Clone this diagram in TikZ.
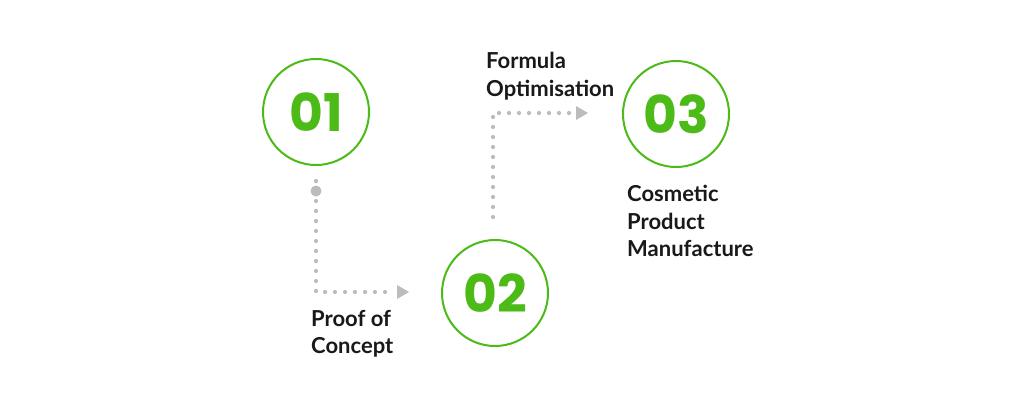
\documentclass[tikz,border=0pt]{standalone}
\usepackage{fontspec}
\setmainfont{Lato}
\newfontfamily\numfont{Poppins}
\usetikzlibrary{arrows.meta}
\definecolor{grn}{RGB}{76,187,23}
\definecolor{dotgray}{RGB}{188,188,188}
\begin{document}
\begin{tikzpicture}[x=1pt,y=-1pt,
  stepcircle/.style={circle,draw=grn,line width=2pt,minimum size=106pt,inner sep=0pt,
    font=\numfont\bfseries\fontsize{52}{52}\selectfont,text=grn},
  lbl/.style={align=left,anchor=north west,inner sep=0pt,
    font=\bfseries\fontsize{22}{27.5}\selectfont,text=black!90},
  dotline/.style={dotgray,line width=4.2pt,line cap=round,dash pattern=on 0pt off 10pt},
  tip/.style={fill=dotgray,draw=none}]
\useasboundingbox[fill=white] (0,0) rectangle (1024,402);
\node[stepcircle] (c1) at (316,112) {01};
\node[stepcircle] (c2) at (495,293) {02};
\node[stepcircle] (c3) at (676,114) {03};
% connector 1
\coordinate (s1) at (316,191);
\coordinate (k1) at (316,292);
\coordinate (e1) at (397,292);
\fill[dotgray] (s1) circle (5.5);
\draw[dotline] ([yshift=10]s1) -- (k1) -- ([xshift=-6]e1);
\fill[tip] (e1) ++(0,-7) -- ++(12,7) -- ++(-12,7) -- cycle;
% connector 2
\coordinate (s2) at (493,217);
\coordinate (k2) at (493,113);
\coordinate (e2) at (576,113);
\draw[dotline] (s2) -- (k2) -- ([xshift=-6]e2);
\fill[tip] (e2) ++(0,-7) -- ++(12,7) -- ++(-12,7) -- cycle;
% labels
\node[lbl] (t1) at (311,310) {Proof of\\Concept};
\node[lbl] (t2) at (486,52) {Formula\\Optimisation};
\node[lbl] (t3) at (627,185) {Cosmetic\\Product\\Manufacture};
\end{tikzpicture}
\end{document}
